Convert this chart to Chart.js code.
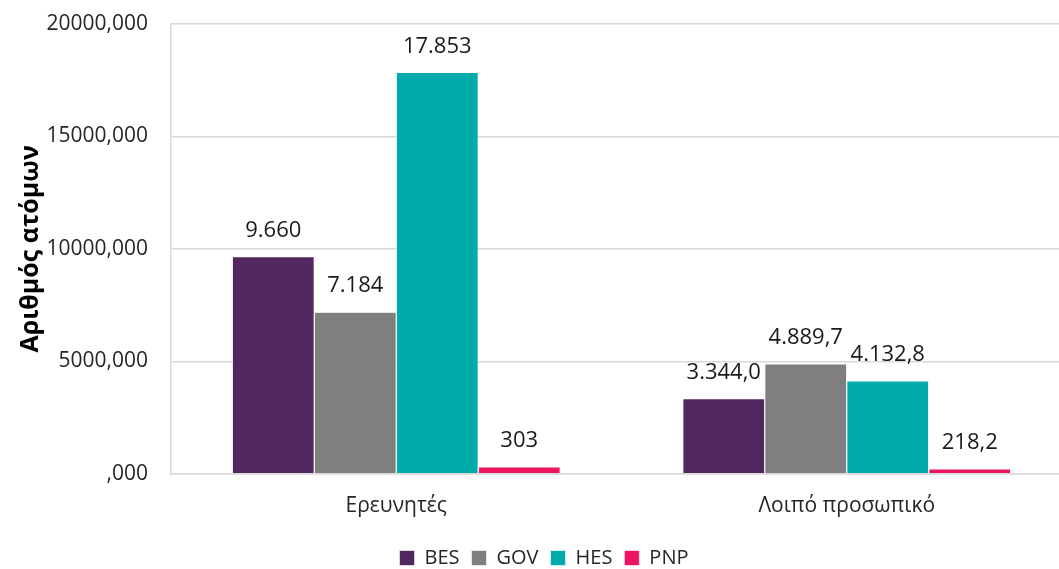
<!DOCTYPE html>
<html>
<head>
<meta charset="utf-8">
<script src="https://cdn.jsdelivr.net/npm/chart.js@4"></script>
<style>
  html, body { margin: 0; background: #fff; overflow: hidden; }
  canvas { display: block; }
</style>
</head>
<body>
<canvas id="chart" width="1072" height="569"></canvas>
<script>
const CATEGORIES = ['Ερευνητές', 'Λοιπό προσωπικό'];
const LABEL_DECIMALS = [0, 1];
const SERIES_NAMES = ['BES', 'GOV', 'HES', 'PNP'];
const BES = [9660, 3344.0];
const GOV = [7184, 4889.7];
const HES = [17853, 4132.8];
const PNP = [303, 218.2];
const COLORS = ['#52265f', '#7f7f7f', '#02abab', '#ed1462'];
const Y_TICKS = [0, 5000, 10000, 15000, 20000];
const FONT = '"Open Sans", "Noto Sans", sans-serif';

function formatLabel(v, i) {
    const d = LABEL_DECIMALS[i];
    return v.toLocaleString('de-DE', { minimumFractionDigits: d, maximumFractionDigits: d });
}

// draws the value above each bar
const barLabels = {
    id: 'barLabels',
    afterDatasetsDraw(chart) {
        const ctx = chart.ctx;
        ctx.save();
        ctx.font = '22px ' + FONT;
        ctx.fillStyle = '#1a1a1a';
        ctx.textAlign = 'center';
        ctx.textBaseline = 'middle';
        chart.data.datasets.forEach((ds, di) => {
            chart.getDatasetMeta(di).data.forEach((bar, i) => {
                ctx.fillText(formatLabel(ds.data[i], i), bar.x, bar.y - 26);
            });
        });
        ctx.restore();
    }
};

const seriesData = [BES, GOV, HES, PNP];

new Chart(document.getElementById('chart'), {
    type: 'bar',
    data: {
        labels: CATEGORIES,
        datasets: SERIES_NAMES.map((name, i) => ({
            label: name,
            data: seriesData[i],
            backgroundColor: COLORS[i],
            borderColor: '#ffffff',
            borderWidth: 0.6,
            categoryPercentage: 0.728,
            barPercentage: 1
        }))
    },
    options: {
        responsive: false,
        animation: false,
        layout: { padding: { left: 16, right: 0, top: 24, bottom: -9 } },
        scales: {
            x: {
                grid: { display: false },
                border: { display: true, color: '#d9d9d9', width: 1.5 },
                afterFit: scale => { scale.height += 5; },
                ticks: { color: '#262626', font: { family: FONT, size: 21 }, padding: 12 }
            },
            y: {
                min: 0,
                max: 20000,
                afterBuildTicks: scale => { scale.ticks = Y_TICKS.map(v => ({ value: v })); },
                afterFit: scale => {
                    scale.width = 155;
                    scale.paddingTop = 0;
                    scale.paddingBottom = 0;
                },
                grid: { color: '#d9d9d9', lineWidth: 1.5, drawTicks: false },
                border: { display: true, color: '#d9d9d9', width: 1.5 },
                ticks: {
                    color: '#262626',
                    font: { family: FONT, size: 21 },
                    padding: 23,
                    callback: v => (v === 0 ? '' : String(v)) + ',000'
                },
                title: {
                    display: true,
                    text: 'Αριθμός ατόμων',
                    color: '#000',
                    font: { family: FONT, size: 25, weight: 'bold' },
                    padding: 0
                }
            }
        },
        plugins: {
            legend: {
                position: 'bottom',
                labels: {
                    color: '#262626',
                    font: { family: FONT, size: 20 },
                    boxWidth: 15,
                    boxHeight: 15,
                    padding: 12
                }
            },
            tooltip: { enabled: false }
        }
    },
    plugins: [barLabels]
});
</script>
</body>
</html>
